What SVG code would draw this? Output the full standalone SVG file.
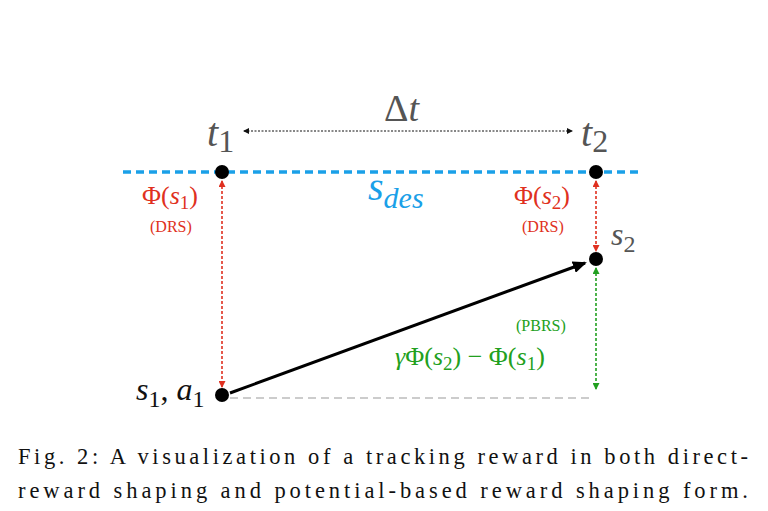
<svg xmlns="http://www.w3.org/2000/svg" width="768" height="511" viewBox="0 0 768 511">
<style>
text{font-family:"Liberation Serif","Times New Roman","DejaVu Serif",serif}
.g{fill:#555}
.i{font-style:italic}
.r{fill:#e03020}
.gr{fill:#22a020}
.k{fill:#111}
</style>
<defs>
<marker id="ak" markerWidth="6" markerHeight="6" refX="5" refY="3" orient="auto-start-reverse" markerUnits="userSpaceOnUse"><path d="M0,0L6,3L0,6z" fill="#111"/></marker>
<marker id="ar" markerWidth="7" markerHeight="7" refX="6" refY="3.5" orient="auto-start-reverse" markerUnits="userSpaceOnUse"><path d="M0,0L7,3.5L0,7z" fill="#e03020"/></marker>
<marker id="ag" markerWidth="7" markerHeight="7" refX="6" refY="3.5" orient="auto-start-reverse" markerUnits="userSpaceOnUse"><path d="M0,0L7,3.5L0,7z" fill="#22a020"/></marker>
<marker id="ab" markerWidth="14" markerHeight="12" refX="12" refY="6" orient="auto" markerUnits="userSpaceOnUse"><path d="M0,0L14,6L0,12z" fill="#000"/></marker>
</defs>
<rect width="768" height="511" fill="#fff"/>
<g id="connectors">
<line x1="123" y1="172" x2="640" y2="172" stroke="#1aa0e8" stroke-width="3.5" stroke-dasharray="8,5"/>
<line x1="230" y1="398" x2="594" y2="398" stroke="#ccc" stroke-width="2" stroke-dasharray="8,5"/>
<line x1="244" y1="131" x2="572" y2="131" stroke="#111" stroke-width="1" stroke-dasharray="2,1.5" marker-start="url(#ak)" marker-end="url(#ak)"/>
<line x1="222" y1="181" x2="222" y2="387" stroke="#e03020" stroke-width="1.6" stroke-dasharray="3,2" marker-start="url(#ar)" marker-end="url(#ar)"/>
<line x1="596" y1="181" x2="596" y2="251" stroke="#e03020" stroke-width="1.6" stroke-dasharray="3,2" marker-start="url(#ar)" marker-end="url(#ar)"/>
<line x1="596" y1="268" x2="596" y2="389" stroke="#22a020" stroke-width="1.6" stroke-dasharray="3,2" marker-start="url(#ag)" marker-end="url(#ag)"/>
<line x1="230" y1="393" x2="585" y2="263" stroke="#000" stroke-width="3" marker-end="url(#ab)"/>
</g>
<g id="n1"><circle cx="222" cy="172" r="7" fill="#000"/><text x="207" y="146" class="g i" font-size="40">t<tspan font-style="normal" font-size="32" dy="6">1</tspan></text></g>
<g id="n2"><circle cx="596" cy="172" r="7" fill="#000"/><text x="581" y="146" class="g i" font-size="40">t<tspan font-style="normal" font-size="32" dy="6">2</tspan></text></g>
<g id="n3"><circle cx="596" cy="259" r="7" fill="#000"/><text x="611" y="245" class="g i" font-size="32">s<tspan font-style="normal" font-size="24" dy="7">2</tspan></text></g>
<g id="n4"><circle cx="222" cy="395" r="7" fill="#000"/><text x="136" y="400" class="k i" font-size="32">s<tspan font-style="normal" font-size="24" dy="7">1</tspan><tspan dy="-7" font-style="normal">, </tspan>a<tspan font-style="normal" font-size="24" dy="7">1</tspan></text></g>
<text x="384" y="121" class="g" font-size="38">Δ<tspan class="i">t</tspan></text>
<text x="368" y="200" fill="#1aa0e8" font-style="italic" font-size="40">s<tspan font-size="30" dy="8">des</tspan></text>
<text x="142" y="204" class="r" font-size="26">Φ(<tspan class="i">s</tspan><tspan font-size="19" dy="5">1</tspan><tspan dy="-5">)</tspan></text>
<text x="150" y="232" class="r" font-size="16">(DRS)</text>
<text x="514" y="204" class="r" font-size="26">Φ(<tspan class="i">s</tspan><tspan font-size="19" dy="5">2</tspan><tspan dy="-5">)</tspan></text>
<text x="522" y="232" class="r" font-size="16">(DRS)</text>
<text x="516" y="331" class="gr" font-size="16">(PBRS)</text>
<text x="395" y="365" class="gr" font-size="26"><tspan class="i">γ</tspan>Φ(<tspan class="i">s</tspan><tspan font-size="19" dy="5">2</tspan><tspan dy="-5">) − Φ(</tspan><tspan class="i">s</tspan><tspan font-size="19" dy="5">1</tspan><tspan dy="-5">)</tspan></text>
<text x="18" y="464" class="k" font-size="22.5" textLength="730" lengthAdjust="spacing">Fig. 2: A visualization of a tracking reward in both direct-</text>
<text x="18" y="498" class="k" font-size="22.5" textLength="730" lengthAdjust="spacing">reward shaping and potential-based reward shaping form.</text>
</svg>
